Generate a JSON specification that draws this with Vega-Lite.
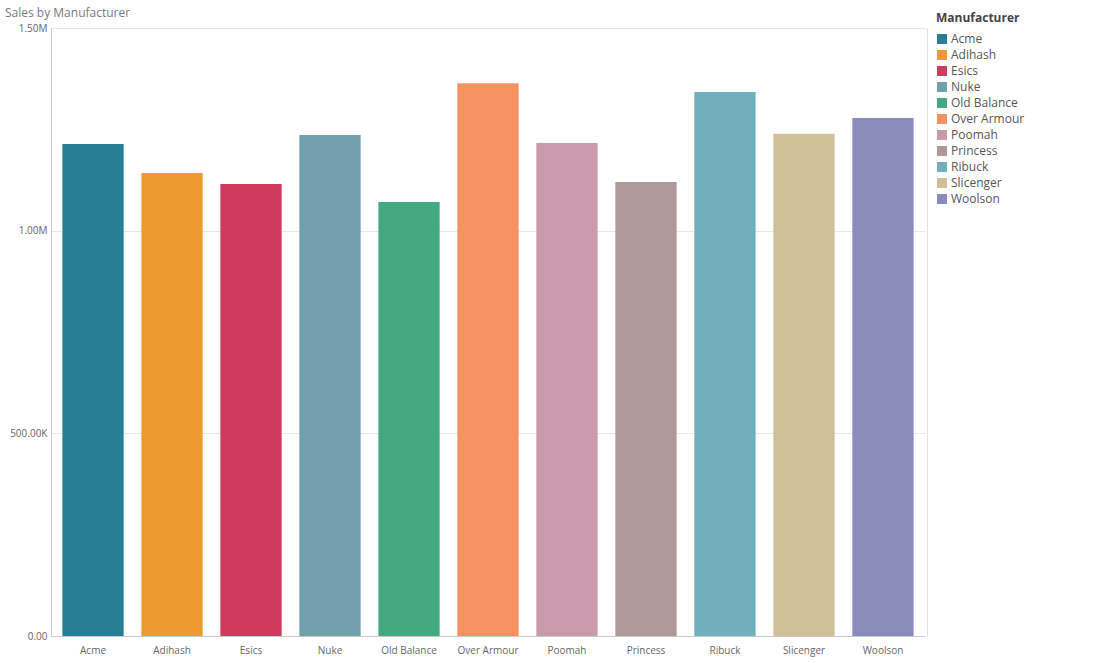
{
  "$schema": "https://vega.github.io/schema/vega-lite/v6.json",
  "width": 874,
  "height": 608,
  "autosize": {"type": "none"},
  "padding": {"left": 51, "top": 28, "right": 185, "bottom": 27},
  "background": "white",
  "title": {
    "text": "Sales by Manufacturer",
    "anchor": "start",
    "frame": "group",
    "dx": -46,
    "dy": 11,
    "fontSize": 12,
    "font": "Open Sans",
    "fontWeight": "normal",
    "color": "#7a7a7a",
    "offset": 4
  },
  "data": {
    "values": [
      {"Manufacturer": "Acme", "Sales": 1214000},
      {"Manufacturer": "Adihash", "Sales": 1142000},
      {"Manufacturer": "Esics", "Sales": 1115000},
      {"Manufacturer": "Nuke", "Sales": 1236000},
      {"Manufacturer": "Old Balance", "Sales": 1071000},
      {"Manufacturer": "Over Armour", "Sales": 1364000},
      {"Manufacturer": "Poomah", "Sales": 1216000},
      {"Manufacturer": "Princess", "Sales": 1120000},
      {"Manufacturer": "Ribuck", "Sales": 1342000},
      {"Manufacturer": "Slicenger", "Sales": 1239000},
      {"Manufacturer": "Woolson", "Sales": 1278000}
    ]
  },
  "encoding": {
    "x": {
      "field": "Manufacturer",
      "type": "nominal",
      "sort": null,
      "scale": {"paddingInner": 0.224, "paddingOuter": 0.144},
      "axis": {
        "title": null,
        "labelAngle": 0,
        "ticks": false,
        "domainColor": "#c8c8c8",
        "labelColor": "#666666",
        "labelFont": "Open Sans",
        "labelFontSize": 10,
        "labelPadding": 9,
        "grid": false
      }
    }
  },
  "layer": [
    {
      "mark": {"type": "bar"},
      "encoding": {
        "y": {
          "field": "Sales",
          "type": "quantitative",
          "scale": {"domain": [0, 1500000], "nice": false},
          "axis": {
            "title": null,
            "values": [0, 500000, 1000000, 1500000],
            "labelExpr": "datum.value >= 1000000 ? format(datum.value/1000000, '.2f') + 'M' : datum.value >= 1000 ? format(datum.value/1000, '.2f') + 'K' : format(datum.value, '.2f')",
            "ticks": false,
            "domainColor": "#c8c8c8",
            "gridColor": "#e8e8e8",
            "labelColor": "#666666",
            "labelFont": "Open Sans",
            "labelFontSize": 10,
            "labelPadding": 4
          }
        },
        "color": {
          "field": "Manufacturer",
          "type": "nominal",
          "sort": null,
          "scale": {
            "domain": ["Acme", "Adihash", "Esics", "Nuke", "Old Balance", "Over Armour", "Poomah", "Princess", "Ribuck", "Slicenger", "Woolson"],
            "range": ["#267D94", "#EE9A30", "#CF3B5D", "#71A1AD", "#44A981", "#F59262", "#C99AAC", "#AF9998", "#70AFBC", "#D0BF98", "#888BBC"]
          },
          "legend": {
            "orient": "none",
            "legendX": 885,
            "legendY": -15,
            "title": "Manufacturer",
            "titleFont": "Open Sans",
            "titleFontSize": 12,
            "titleFontWeight": "bold",
            "titleColor": "#444444",
            "titlePadding": 8,
            "labelFont": "Open Sans",
            "labelFontSize": 12,
            "labelColor": "#555555",
            "symbolType": "square",
            "symbolSize": 100,
            "symbolStrokeWidth": 0,
            "rowPadding": 4,
            "labelOffset": 3
          }
        }
      }
    },
    {
      "mark": {"type": "bar", "opacity": 0},
      "encoding": {
        "y": {
          "field": "Sales",
          "type": "quantitative",
          "scale": {"domain": [0, 1500000], "nice": false},
          "axis": {
            "orient": "right",
            "title": null,
            "labels": false,
            "ticks": false,
            "grid": false,
            "domainColor": "#e0e0e0",
            "offset": 2
          }
        }
      }
    }
  ],
  "resolve": {"axis": {"y": "independent"}},
  "config": {
    "view": {"stroke": null}
  }
}
